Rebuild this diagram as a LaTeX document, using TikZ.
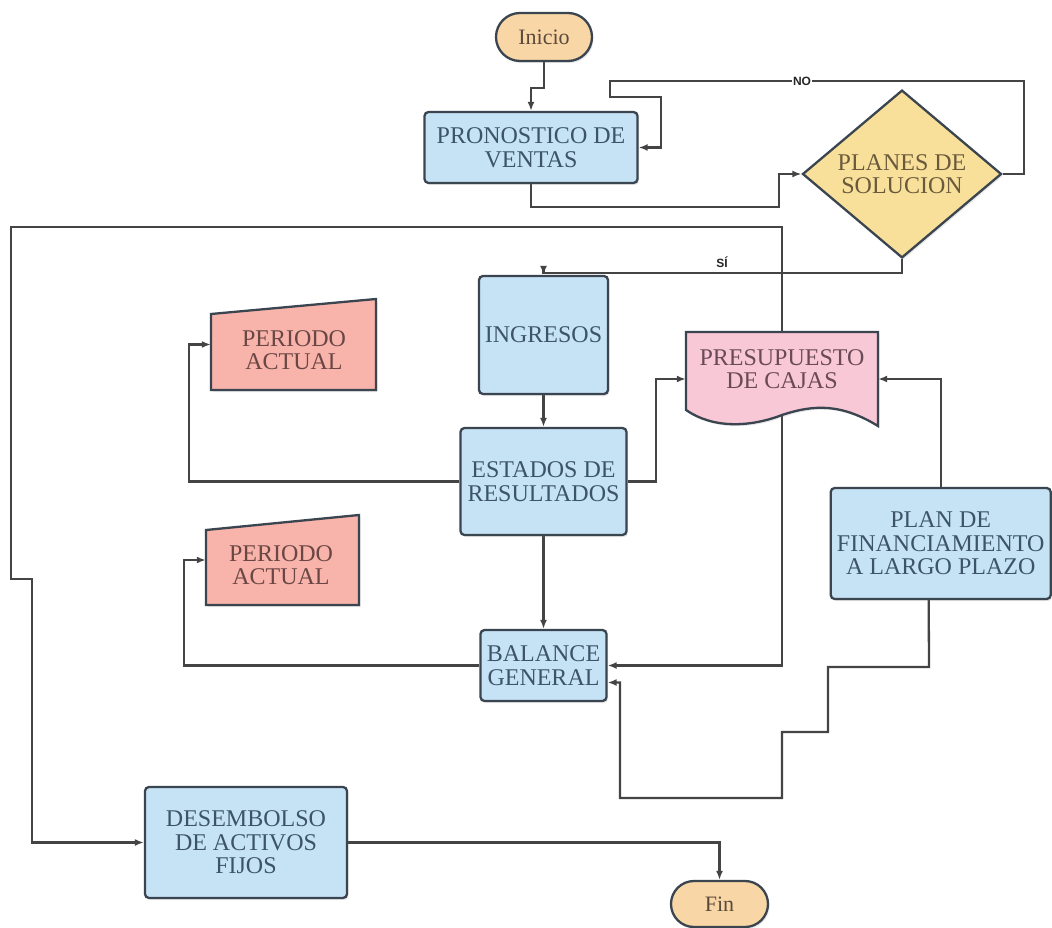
\documentclass[tikz,border=0pt]{standalone}
\usepackage{fontspec}
\setmainfont{Liberation Serif}
\newfontfamily\lblfont{Liberation Sans}
\usetikzlibrary{arrows.meta,shapes.geometric,shapes.misc,calc,shadows,backgrounds}
\definecolor{lineC}{HTML}{444444}
\definecolor{edgeC}{HTML}{3A4550}
\definecolor{blueF}{HTML}{C6E3F6}
\definecolor{blueT}{HTML}{3D5468}
\definecolor{peachF}{HTML}{F9D6A6}
\definecolor{peachT}{HTML}{5A4A3C}
\definecolor{yelF}{HTML}{F9E09A}
\definecolor{yelT}{HTML}{6A5A3C}
\definecolor{salF}{HTML}{F8B3AA}
\definecolor{pinkF}{HTML}{F9C8D6}
\definecolor{brownT}{HTML}{6A4744}
\definecolor{pinkT}{HTML}{6A4A56}
\begin{document}
\begin{tikzpicture}[x=1pt,y=-1pt,
  conn/.style={draw=lineC,line width=2.3pt},
  arr/.style={conn,-{Latex[length=9pt,width=7pt]}},
  shad/.style={drop shadow={opacity=0.18,shadow xshift=1.5pt,shadow yshift=-2pt}},
  boxproc/.style={rectangle,rounded corners=4pt,draw=edgeC,line width=2.3pt,fill=blueF,text=blueT,align=center,inner sep=0pt,font=\fontsize{24}{23.5}\selectfont,shad},
  term/.style={rounded rectangle,draw=edgeC,line width=2.3pt,fill=peachF,text=peachT,inner sep=0pt,font=\fontsize{22}{22}\selectfont,shad},
  decision/.style={diamond,draw=edgeC,line width=2.3pt,fill=yelF,text=yelT,align=center,inner sep=0pt,font=\fontsize{24}{23}\selectfont,shad},
  anchorbox/.style={rectangle,draw=none,inner sep=0pt},
  txt/.style={align=center,inner sep=0pt,font=\fontsize{24}{23.5}\selectfont},
  shapeline/.style={draw=edgeC,line width=2.3pt,shad},
  lbl/.style={fill=white,inner sep=1pt,font=\lblfont\bfseries\fontsize{12}{12}\selectfont,text=black!85}
]
\useasboundingbox (0,0) rectangle (1052,928);

% nodes
\node[term,minimum width=96pt,minimum height=48pt] (ini) at (544,37) {Inicio};
\node[boxproc,minimum width=213pt,minimum height=71pt] (pron) at (531,147.5) {PRONOSTICO DE\\VENTAS};
\node[decision,minimum width=199pt,minimum height=150pt] (dec) at (902,174) {PLANES DE\\SOLUCION};
\node[boxproc,minimum width=129pt,minimum height=118pt] (ing) at (543.5,335) {INGRESOS};
\node[boxproc,minimum width=166pt,minimum height=107pt] (est) at (543.5,481.5) {ESTADOS DE\\RESULTADOS};
\node[boxproc,minimum width=126pt,minimum height=71pt] (bal) at (543.5,665.5) {BALANCE\\GENERAL};
\node[boxproc,minimum width=220pt,minimum height=111pt] (fp) at (940.7,543.5) {PLAN DE\\FINANCIAMIENTO\\A LARGO PLAZO};
\node[boxproc,minimum width=202pt,minimum height=111pt] (des) at (246,842.5) {DESEMBOLSO\\DE ACTIVOS\\FIJOS};
\node[term,minimum width=97pt,minimum height=46pt] (fin) at (719.5,904) {Fin};

% Periodo actual 1 (manual input)
\path[shapeline,fill=salF] (211,314) -- (376,299) -- (376,390) -- (211,390) -- cycle;
\node[anchorbox,minimum width=165pt,minimum height=91pt] (per1) at (293.5,344.5) {};
\node[txt,text=brownT] (per1t) at (294,350) {PERIODO\\ACTUAL};
% Periodo actual 2
\path[shapeline,fill=salF] (206,530) -- (359,515) -- (359,605) -- (206,605) -- cycle;
\node[anchorbox,minimum width=153pt,minimum height=90pt] (per2) at (282.5,560) {};
\node[txt,text=brownT] (per2t) at (281,565) {PERIODO\\ACTUAL};
% Presupuesto de cajas (document)
\path[shapeline,fill=pinkF] (686,332) -- (878,332) -- (878,426)
  .. controls (842,404) and (815,404) .. (782,415)
  .. controls (748,428) and (712,428) .. (686,410) -- cycle;
\node[anchorbox,minimum width=192pt,minimum height=94pt] (pres) at (782,379) {};
\node[txt,text=pinkT] (prest) at (782,369) {PRESUPUESTO\\DE CAJAS};

% connectors
\begin{scope}[on background layer]
\fill[white] (0,0) rectangle (1052,928);
\draw[arr] (ini.south) -- ++(0,26) -| (pron.north);
\draw[arr] (pron.south) |- (779,207) |- (dec.west);
\draw[arr] (dec.east) -| (1024,81) -| (610,97) -- (661,97) |- (pron.east);
\draw[arr] (dec.south) -- ++(0,14) -| (ing.north);
\draw[arr] (ing.south) -- (est.north);
\draw[arr] (est.south) -- (bal.north);
\draw[arr] (est.west) -- (189,481.5) |- (per1.west);
\draw[arr] (est.east) -- (656,481.5) |- (pres.west);
\draw[arr] (bal.west) -- (184,665.5) |- (per2.west);
\draw[arr] (pres.center) |- (bal.east);
\draw[arr] (pres.center) -- (782,227) -- (11,227) -- (11,579) -- (32,579) |- (des.west);
\draw[arr] (fp.north) |- (pres.east);
\draw[arr] ([xshift=-12pt]fp.south) -- (929,667) -- (828,667) -- (828,732) -- (782,732) -- (782,798) -- (620,798) |- ([yshift=-17pt]bal.east);
\draw[arr] (des.east) -| (fin.north);
\end{scope}

% labels
\node[lbl] (nolbl) at (802,81) {NO};
\node[lbl] (silbl) at (722,262) {SÍ};
\end{tikzpicture}
\end{document}
